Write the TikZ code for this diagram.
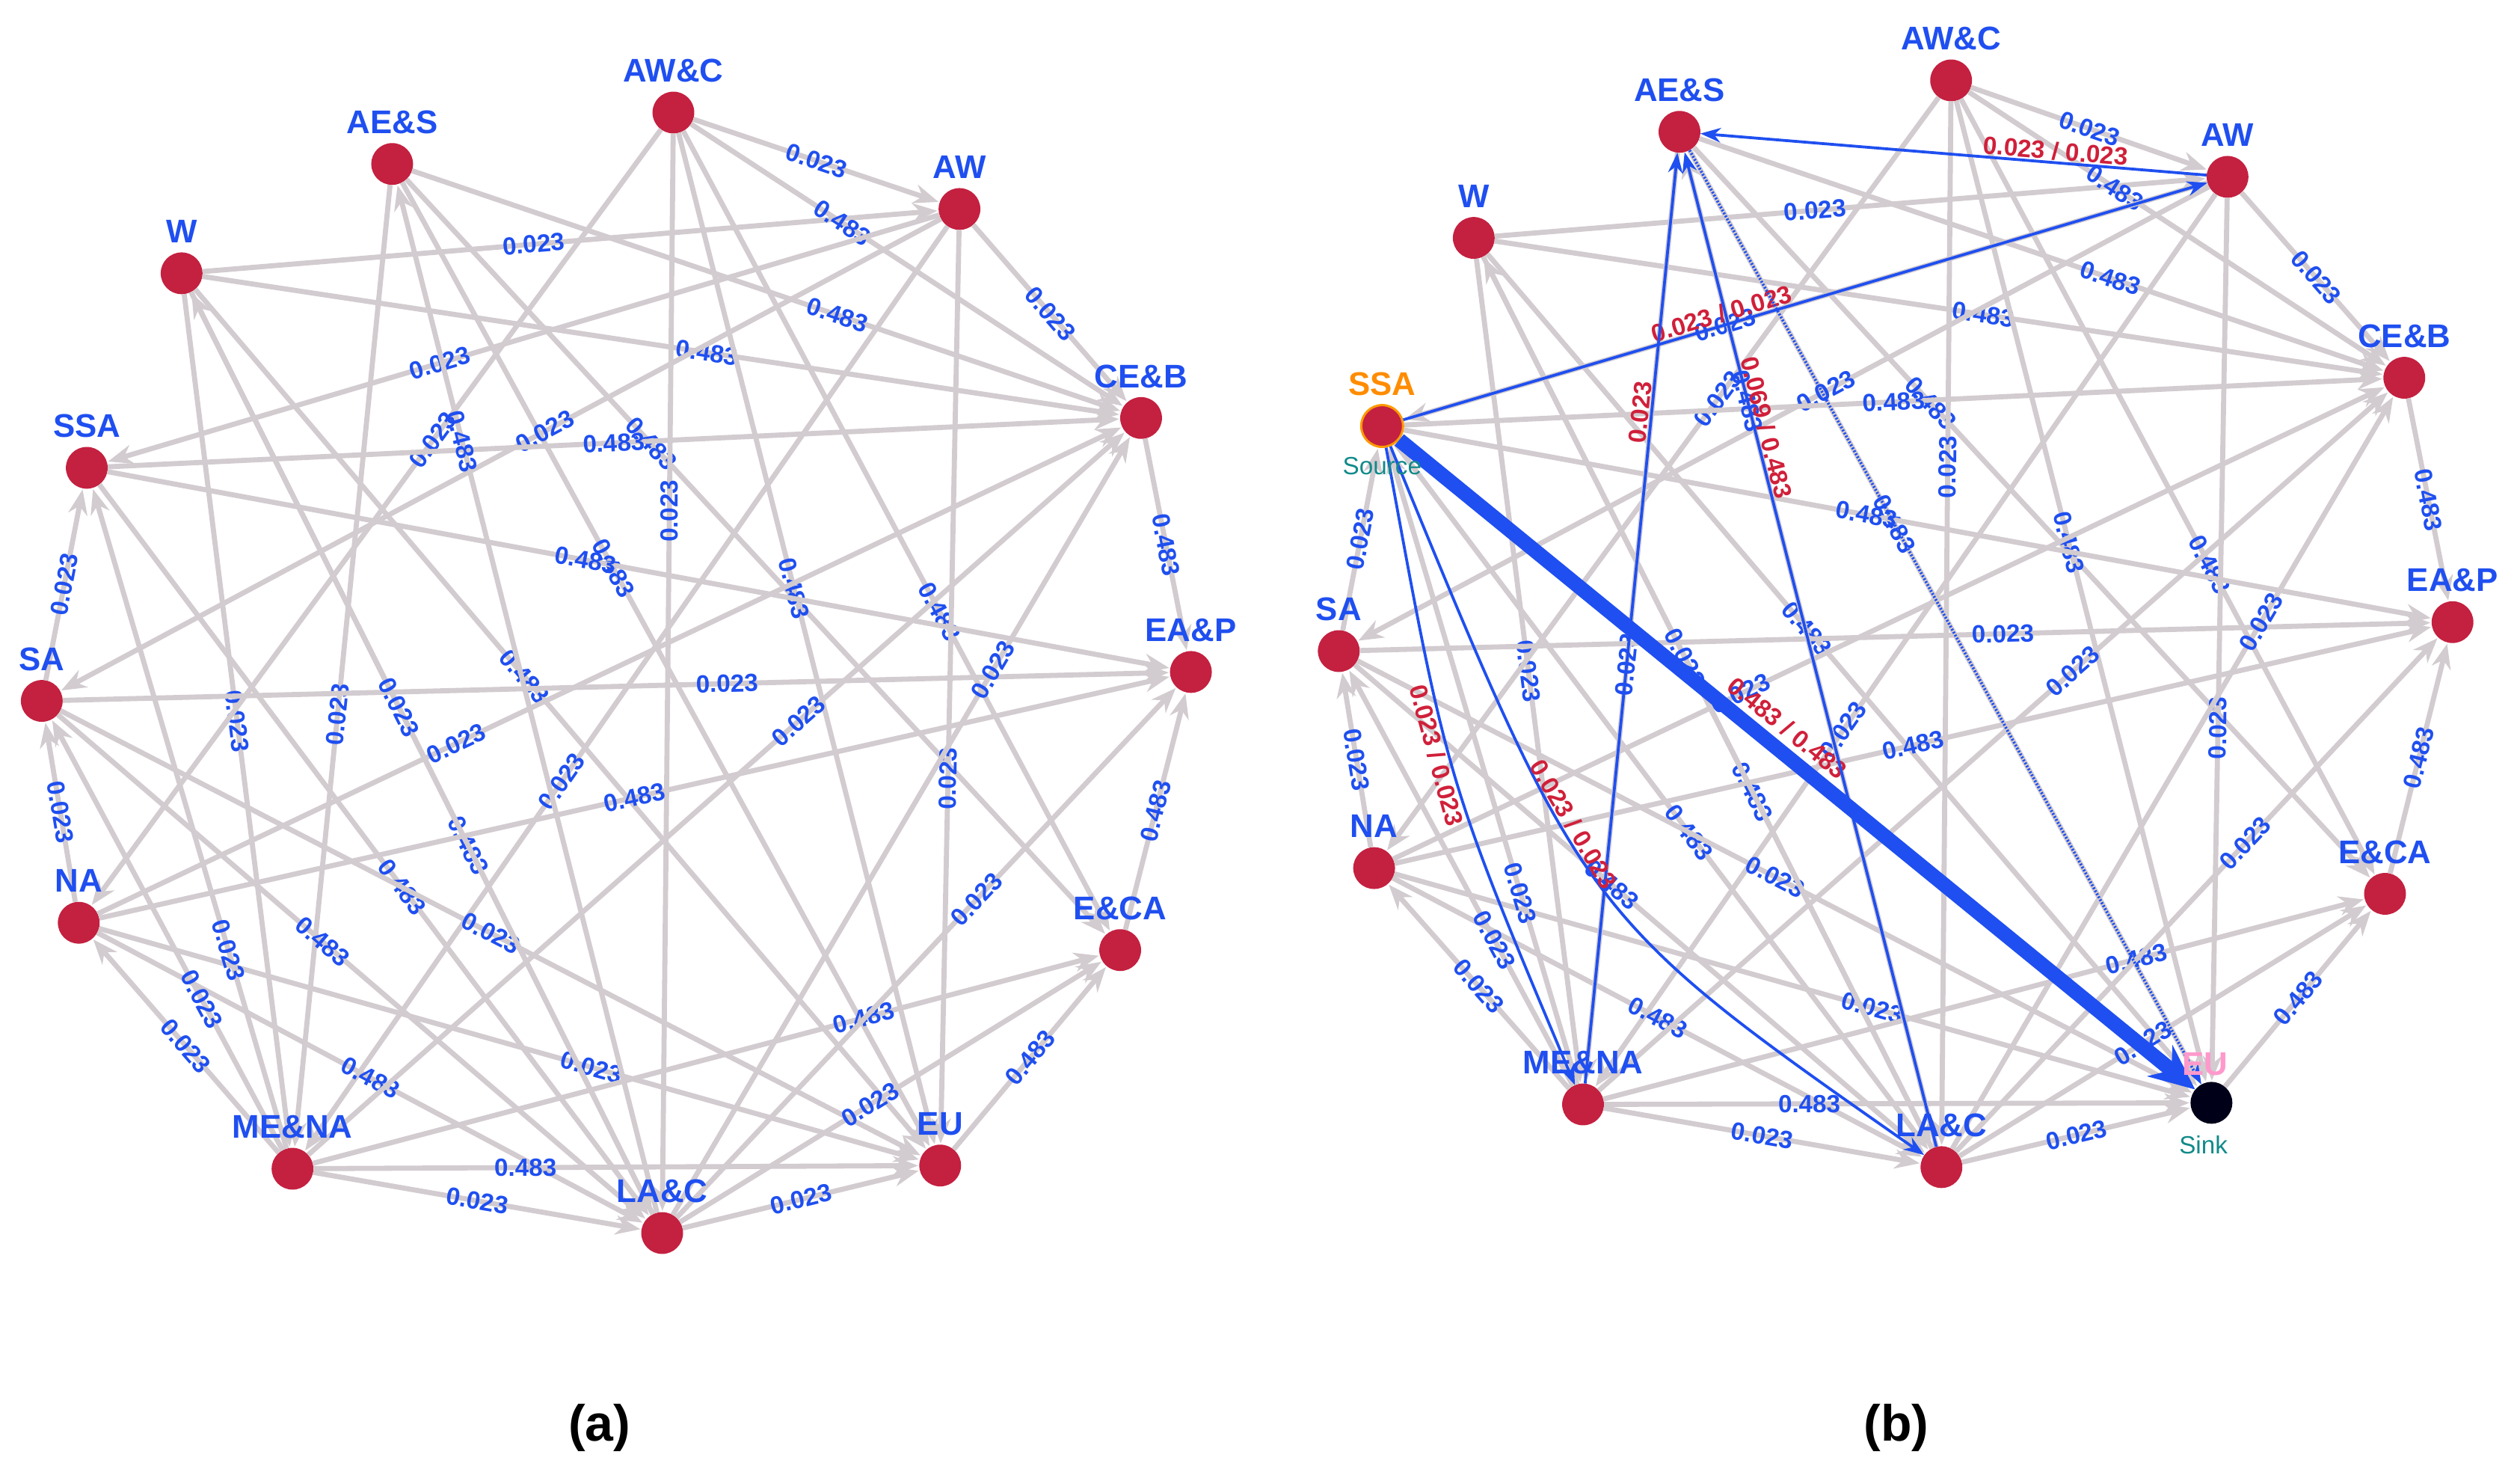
\documentclass[tikz,border=0pt]{standalone}
\usepackage{fontspec}
\setmainfont{Liberation Sans}
\usetikzlibrary{arrows.meta}
\definecolor{nred}{HTML}{C42040}
\definecolor{lblue}{HTML}{1F4FF0}
\definecolor{egray}{HTML}{D2CBCF}
\definecolor{rlab}{HTML}{D0203A}
\definecolor{teal2}{HTML}{128A8A}
\begin{document}
\begin{tikzpicture}[x=1mm,y=-1mm,
  nd/.style={circle,fill=nred,minimum size=26mm,inner sep=0pt},
  nl/.style={font=\fontsize{58}{64}\selectfont\bfseries,text=lblue},
  ed/.style={draw=egray,line width=9pt,-{Stealth[length=44pt,width=34pt]},shorten >=2pt},
  lb/.style={font=\fontsize{44}{48}\selectfont\bfseries,text=lblue,sloped,inner sep=2pt},
  hl/.style={draw=lblue,line width=5pt,-{Stealth[length=36pt,width=26pt]}},
  rl/.style={font=\fontsize{44}{48}\selectfont\bfseries,text=rlab,sloped,inner sep=2pt}]
\useasboundingbox (0,0) rectangle (1568,923);
\foreach \n/\x/\y in {AWC/419/70,AES/244/102,AW/597/130,W/113/170,CEB/710/260,SSA/54/291,SA/26/436,EAP/741/418,NA/49/574,ECA/697/591,MENA/182/727,LAC/412/767,EU/585/725}
  \node[nd] (a\n) at (\x,\y) {};
\foreach \n/\x/\y in {AWC/1214/50,AES/1045/82,AW/1386/110,W/917/148,CEB/1496/235,SA/833/405,EAP/1526/387,NA/855/540,ECA/1484/556,MENA/985/687,LAC/1208/726}
  \node[nd] (b\n) at (\x,\y) {};
\node[nd,draw=orange!80!yellow,line width=4pt] (bSSA) at (860,265) {};
\node[nd,fill=black!90!blue] (bEU) at (1376,686) {};
\coordinate (c1) at (900,485);
\coordinate (c2) at (985,570);
\foreach \P in {a,b}{
\foreach \s/\t/\v/\q in {AWC/AW/0.023/0.5,AW/CEB/0.023/0.5,CEB/EAP/0.483/0.5,ECA/EAP/0.483/0.5,EU/ECA/0.483/0.5,LAC/EU/0.023/0.5,MENA/LAC/0.023/0.5,MENA/NA/0.023/0.5,NA/SA/0.023/0.5,SA/SSA/0.023/0.5,
  W/AW/0.023/0.45,W/CEB/0.483/0.55,W/EU/0.483/0.45,W/LAC/0.483/0.6,W/MENA/0.023/0.5,
  AES/CEB/0.483/0.6,AES/EU/0.483/0.4,AES/MENA/0.023/0.55,AES/ECA/0.483/0.35,
  AWC/CEB/0.483/0.35,AWC/EU/0.483/0.45,AWC/LAC/0.023/0.35,AWC/NA/0.023/0.4,AWC/ECA/0.483/0.6,
  AW/SSA/0.023/0.6,AW/SA/0.023/0.45,AW/MENA/0.023/0.6,AW/EU/0.023/0.6,
  SSA/CEB/0.483/0.5,SSA/EAP/0.483/0.45,SSA/LAC/0.483/0.55,
  SA/EAP/0.023/0.6,SA/EU/0.023/0.5,SA/LAC/0.483/0.45,
  NA/CEB/0.023/0.35,NA/EU/0.023/0.6,NA/EAP/0.483/0.5,NA/LAC/0.483/0.5,
  MENA/EU/0.483/0.35,MENA/CEB/0.023/0.6,MENA/ECA/0.483/0.7,MENA/SSA/0.023/0.3,MENA/SA/0.023/0.35,
  LAC/EAP/0.023/0.6,LAC/ECA/0.023/0.45,LAC/CEB/0.023/0.7,LAC/W/0.023/0.55,LAC/AES/0.483/0.75}
  \draw[ed] (\P\s) -- node[lb,pos=\q]{\v} (\P\t);
}
\draw[draw=lblue,line width=26pt,-{Stealth[length=80pt,width=70pt]}] (bSSA) -- node[rl,pos=0.47,above=8pt]{0.483 / 0.483} (bEU);
\draw[hl] (bSSA) -- node[rl,pos=0.4,above]{0.023 / 0.023} (bAW);
\draw[hl] (bAW) -- node[rl,pos=0.3,above]{0.023 / 0.023} (bAES);
\draw[hl] (bSSA) .. controls (c1) .. node[rl,pos=0.45,below]{0.023 / 0.023} (bMENA);
\draw[hl] (bMENA) -- node[rl,pos=0.72,above]{0.023} (bAES);
\draw[hl] (bSSA) .. controls (c2) .. node[rl,pos=0.4,above]{0.023 / 0.023} (bLAC);
\draw[hl] (bLAC) -- node[rl,pos=0.72,above]{0.069 / 0.483} (bAES);
\draw[hl,dashed] (bAES) -- (bEU);
\foreach \P/\n/\t in {a/AWC/AW\&C,a/AES/AE\&S,a/AW/AW,a/W/W,a/CEB/CE\&B,a/SSA/SSA,a/SA/SA,a/EAP/EA\&P,a/NA/NA,a/ECA/E\&CA,a/MENA/ME\&NA,a/LAC/LA\&C,a/EU/EU,
  b/AWC/AW\&C,b/AES/AE\&S,b/AW/AW,b/W/W,b/CEB/CE\&B,b/SA/SA,b/EAP/EA\&P,b/NA/NA,b/ECA/E\&CA,b/MENA/ME\&NA,b/LAC/LA\&C}
  \node[nl] (\P\n L) at ([yshift=26mm]\P\n) {\t};
\node[nl,text=orange!90!yellow] (bSSAL) at ([yshift=26mm]bSSA) {SSA};
\node[nl,text=pink!80!magenta] (bEUL) at ([shift={(-4mm,24mm)}]bEU) {EU};
\node[font=\fontsize{44}{48}\selectfont,text=teal2] (src) at ([yshift=-25mm]bSSA) {Source};
\node[font=\fontsize{44}{48}\selectfont,text=teal2] (snk) at ([shift={(-5mm,-26mm)}]bEU) {Sink};
\node[font=\fontsize{90}{100}\selectfont\bfseries\rmfamily] (capa) at (373,888) {(a)};
\node[font=\fontsize{90}{100}\selectfont\bfseries\rmfamily] (capb) at (1180,888) {(b)};
\end{tikzpicture}
\end{document}
